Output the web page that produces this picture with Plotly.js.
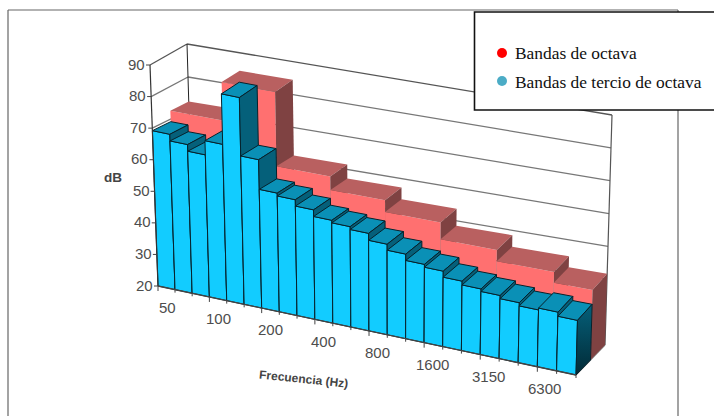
<!DOCTYPE html>
<html>
<head>
<meta charset="utf-8">
<script src="https://cdn.plot.ly/plotly-3.0.1.min.js"></script>
<style>html,body{margin:0;padding:0;background:#fff}#chart{width:714px;height:416px}</style>
</head>
<body>
<div id="chart"></div>
<script>
// Third-octave band levels (front row), one per band
const thirdOctaveBands = [50,63,80,100,125,160,200,250,315,400,500,630,800,1000,1250,1600,2000,2500,3150,4000,5000,6300,8000];
const thirdOctaveDb = [69.2,67.1,65,69.5,85.5,67,57.6,56.7,54.7,52.6,51.8,50.9,48.7,46.8,44.8,43.9,42,40.8,40,39,38,38.6,37.3];
// Octave band levels (back row), each covering a run of third-octave bands
const octaveStarts = [0,3,6,9,12,15,18,21];
const octaveEnds = [3,6,9,12,15,18,21,23];
const octaveDb = [72.6,84.5,61.5,57.3,53.7,48.5,45,41.7];
// Axis labels
const xTickLabels = ['50','100','200','400','800','1600','3150','6300'];
const xTickBands = [0,3,6,9,12,15,18,21];
const yTicks = [20,30,40,50,60,70,80,90];
const seriesNames = ['Bandas de octava','Bandas de tercio de octava'];

const Y_MIN = 20, Y_MAX = 90, N = thirdOctaveBands.length;

// Box corners of the pseudo-3D plot volume on the drawing plane
const box = {
  fb0:[158,286], ft0:[150,65], fb1:[576,375], ft1:[582,154],
  bb0:[194,275], bt0:[187,44], bb1:[605,345], bt1:[612,115]
};
const lerp = (a,b,t) => [a[0]+(b[0]-a[0])*t, a[1]+(b[1]-a[1])*t];
const K = 1.07;
// Band index + level + depth (0 front, 1 back) to plane coordinates
function project(band, db, depth) {
  const u0 = band/N;
  const u = u0/(K+(1-K)*u0);
  const v = (db-Y_MIN)/(Y_MAX-Y_MIN);
  const front = lerp(lerp(box.fb0,box.fb1,u), lerp(box.ft0,box.ft1,u), v);
  const back = lerp(lerp(box.bb0,box.bb1,u), lerp(box.bt0,box.bt1,u), v);
  return lerp(front,back,depth);
}
const traces = [];
function poly(pts, fill, line, extra) {
  const t = {
    x: pts.map(p=>p[0]).concat(pts[0][0]),
    y: pts.map(p=>p[1]).concat(pts[0][1]),
    mode:'lines', fill:'toself', fillcolor:fill,
    line: line ? {color:line,width:1} : {width:0},
    hoverinfo:'skip', showlegend:false
  };
  traces.push(Object.assign(t, extra||{}));
}
function seg(a,b,color,width) {
  traces.push({x:[a[0],b[0]],y:[a[1],b[1]],mode:'lines',line:{color:color,width:width},hoverinfo:'skip',showlegend:false});
}
// A box running from band a to band b, level h, depth d0..d1
function bar(a,b,h,d0,d1,c,line,sideExtra) {
  const P = (i,v,d)=>project(i,v,d);
  poly([P(a,Y_MIN,d0),P(b,Y_MIN,d0),P(b,h,d0),P(a,h,d0)], c.front, line);
  poly([P(a,h,d0),P(b,h,d0),P(b,h,d1),P(a,h,d1)], c.top, line);
  poly([P(b,Y_MIN,d0),P(b,Y_MIN,d1),P(b,h,d1),P(b,h,d0)], c.side, line, sideExtra);
}

// Walls: grid lines on the left and back planes
yTicks.forEach(t=>{
  const col = t===Y_MAX ? '#555' : '#777';
  seg(project(0,t,0),project(0,t,1),col,1.3);
  seg(project(0,t,1),project(N,t,1),col,1.3);
});
seg(project(0,Y_MIN,1),project(0,Y_MAX,1),'#222',1);
seg(project(N,Y_MIN,1),project(N,Y_MAX,1),'#555',1.2);
seg(project(N,Y_MIN,0),project(N,Y_MIN,1),'#888',1.2);

// Octave bands sit in the back half of the volume
const redCol = {front:'#ff7070',top:'#b96060',side:'#7f4242'};
octaveDb.forEach((h,i)=>bar(octaveStarts[i],octaveEnds[i],h,0.5,1,redCol,null));

// Third-octave bands fill the front half, drawn left to right so nearer bars overlap
const blueCol = {front:'#12ccff',top:'#0a90b6',side:'#05607a'};
thirdOctaveDb.forEach((h,i)=>{
  const last = i===N-1;
  bar(i,i+1,h,0,0.5,blueCol,'#06222c', last ? {
    fillgradient:{type:'vertical',colorscale:[[0,'#022a36'],[1,'#05607a']]}
  } : null);
});

// Axis lines and ticks
seg(project(0,Y_MIN,0),project(0,Y_MAX,0),'#333',1.2);
seg(project(0,Y_MIN,0),project(N,Y_MIN,0),'#444',1.3);
yTicks.forEach(t=>{
  const p = project(0,t,0);
  seg([p[0]-4,p[1]],p,'#444',1);
});
for (let i=0;i<=N;i++){
  const p = project(i,Y_MIN,0);
  seg(p,[p[0],p[1]+(i%3===0?5:3)],'#444',1);
}

const labelFont = {family:'Liberation Sans, Arial, sans-serif',size:15,color:'#4d4d4d'};
const annotations = [];
yTicks.forEach(t=>{
  const p = project(0,t,0);
  annotations.push({x:p[0]-3,y:p[1]-1,xref:'x',yref:'y',text:String(t),showarrow:false,xanchor:'right',yanchor:'middle',font:labelFont});
});
xTickLabels.forEach((s,i)=>{
  const p = project(xTickBands[i]+0.5,Y_MIN,0);
  annotations.push({x:p[0]+1-3*i/7,y:p[1]+20,xref:'x',yref:'y',text:s,showarrow:false,xanchor:'center',yanchor:'middle',font:labelFont});
});
annotations.push({x:303,y:379,xref:'x',yref:'y',text:'<b>Frecuencia (Hz)</b>',showarrow:false,textangle:6,font:{family:'Liberation Sans, Arial, sans-serif',size:12,color:'#444'}});
annotations.push({x:113,y:177,xref:'x',yref:'y',text:'<b>dB</b>',showarrow:false,font:{family:'Liberation Sans, Arial, sans-serif',size:13.5,color:'#444'}});
const legendFont = {family:'Liberation Serif, Times New Roman, serif',size:17.4,color:'#111'};
annotations.push({x:513,y:53,xref:'x',yref:'y',text:seriesNames[0],showarrow:false,xanchor:'left',yanchor:'middle',font:legendFont});
annotations.push({x:513,y:81.5,xref:'x',yref:'y',text:seriesNames[1],showarrow:false,xanchor:'left',yanchor:'middle',font:legendFont});

const frame = {color:'#666',width:1.2};
const shapes = [
  // outer frame, open at the bottom edge
  {type:'line',xref:'x',yref:'y',x0:8,y0:10,x1:678,y1:10,line:frame,layer:'below'},
  {type:'line',xref:'x',yref:'y',x0:8,y0:10,x1:8,y1:416,line:frame,layer:'below'},
  {type:'line',xref:'x',yref:'y',x0:678,y0:10,x1:678,y1:416,line:frame,layer:'below'},
  // legend panel
  {type:'rect',xref:'x',yref:'y',x0:474.5,y0:12,x1:716,y1:110,fillcolor:'#fff',line:{color:'#111',width:1.6},layer:'above'},
  {type:'circle',xref:'x',yref:'y',x0:497,y0:48,x1:507,y1:58,fillcolor:'#ff0000',line:{width:0},layer:'above'},
  {type:'circle',xref:'x',yref:'y',x0:497,y0:76,x1:507,y1:86,fillcolor:'#4bacc6',line:{width:0},layer:'above'}
];

Plotly.newPlot('chart',traces,{
  width:714,height:416,margin:{l:0,r:0,t:0,b:0},
  paper_bgcolor:'#fff',plot_bgcolor:'#fff',showlegend:false,
  xaxis:{range:[0,714],visible:false,fixedrange:true},
  yaxis:{range:[416,0],visible:false,fixedrange:true},
  annotations:annotations,shapes:shapes
},{displayModeBar:false,staticPlot:true});
</script>
</body>
</html>
